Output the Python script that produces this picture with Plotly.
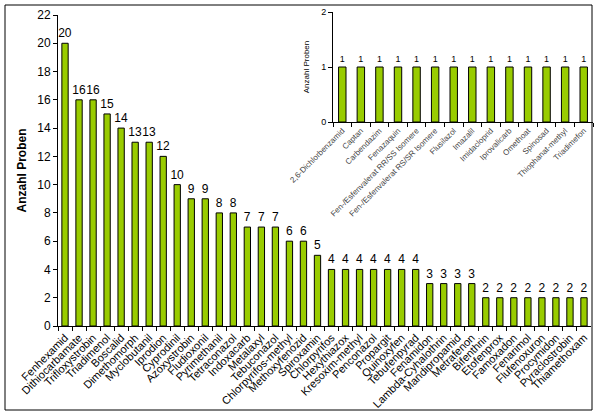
import plotly.graph_objects as go

main_labels = ["Fenhexamid", "Dithiocarbamate", "Trifloxystrobin", "Triadimenol", "Boscalid",
               "Dimethomorph", "Myclobutanil", "Iprodion", "Cyprodinil", "Azoxystrobin",
               "Fludioxonil", "Pyrimethanil", "Tetraconazol", "Indoxacarb", "Metalaxyl",
               "Tebuconazol", "Chlorpyrifos-methyl", "Methoxyfenozid", "Spiroxamin", "Chlorpyrifos",
               "Hexythiazox", "Kresoxim-methyl", "Penconazol", "Propargit", "Quinoxyfen",
               "Tebufenpyrad", "Fenamidon", "Lambda-Cyhalothrin", "Mandipropamid", "Metrafenon",
               "Bifenthrin", "Etofenprox", "Famoxadon", "Fenarimol", "Flufenoxuron",
               "Procymidon", "Pyraclostrobin", "Thiamethoxam"]
main_values = [20, 16, 16, 15, 14, 13, 13, 12, 10, 9, 9, 8, 8, 7, 7, 7, 6, 6, 5,
               4, 4, 4, 4, 4, 4, 4, 3, 3, 3, 3, 2, 2, 2, 2, 2, 2, 2, 2]

inset_labels = ["2,6-Dichlorbenzamid", "Captan", "Carbendazim", "Fenazaquin",
                "Fen-/Esfenvalerat RR/SS Isomere", "Fen-/Esfenvalerat RS/SR Isomere",
                "Flusilazol", "Imazalil", "Imidacloprid", "Iprovalicarb", "Omethoat",
                "Spinosad", "Thiophanat-methyl", "Triadimefon"]
inset_values = [1] * len(inset_labels)

W, H = 604, 416
def px(x): return x / W
def py(y): return 1 - y / H

GREEN = "#99CC00"
FONT = "Liberation Sans"

fig = go.Figure()
fig.add_trace(go.Bar(
    x=main_labels, y=main_values, text=[str(v) for v in main_values],
    textposition="outside", cliponaxis=False, width=0.45, constraintext="none",
    textfont=dict(family=FONT, size=12, color="black"),
    marker=dict(color=GREEN, line=dict(color="black", width=1)),
    xaxis="x", yaxis="y", showlegend=False))
fig.add_trace(go.Bar(
    x=inset_labels, y=inset_values, text=[str(v) for v in inset_values],
    textposition="outside", cliponaxis=False, width=0.4, constraintext="none",
    textfont=dict(family=FONT, size=9, color="black"),
    marker=dict(color=GREEN, line=dict(color="black", width=1)),
    xaxis="x2", yaxis="y2", showlegend=False))

fig.update_layout(
    width=W, height=H,
    margin=dict(l=0, r=0, t=0, b=0),
    paper_bgcolor="white", plot_bgcolor="rgba(0,0,0,0)",
    font=dict(family=FONT, color="black"),
    xaxis=dict(domain=[px(58), px(591)], anchor="y", type="category", automargin=False,
               showline=True, linecolor="black", linewidth=1,
               ticks="outside", ticklen=4, tickson="boundaries", tickcolor="black",
               tickangle=-45, tickfont=dict(family=FONT, size=11), showgrid=False),
    yaxis=dict(domain=[py(326), py(15)], anchor="x", range=[0, 22], dtick=2, automargin=False,
               showline=True, linecolor="black", linewidth=1,
               ticks="outside", ticklen=4, tickcolor="black",
               tickfont=dict(family=FONT, size=12), showgrid=False, zeroline=False,
               title=dict(text="<b>Anzahl Proben</b>", font=dict(family=FONT, size=12), standoff=8)),
    xaxis2=dict(domain=[px(333), px(593)], anchor="y2", type="category", automargin=False,
                showline=True, linecolor="black", linewidth=1,
                ticks="outside", ticklen=4, tickson="boundaries", tickcolor="black",
                tickangle=-45, tickfont=dict(family=FONT, size=8, color="#444"), showgrid=False),
    yaxis2=dict(domain=[py(122), py(12)], anchor="x2", range=[0, 2], dtick=1, automargin=False,
                showline=True, linecolor="black", linewidth=1,
                ticks="outside", ticklen=4, tickcolor="black",
                tickfont=dict(family=FONT, size=9), showgrid=False, zeroline=False,
                title=dict(text="Anzahl Proben", font=dict(family=FONT, size=8), standoff=10)),
    shapes=[dict(type="rect", xref="paper", yref="paper",
                 x0=px(5), x1=px(592), y0=py(410), y1=py(5),
                 line=dict(color="black", width=1), fillcolor="rgba(0,0,0,0)")],
)

fig.write_html("out.html", config={"displayModeBar": False},
               post_script="document.body.style.margin='0px';")
